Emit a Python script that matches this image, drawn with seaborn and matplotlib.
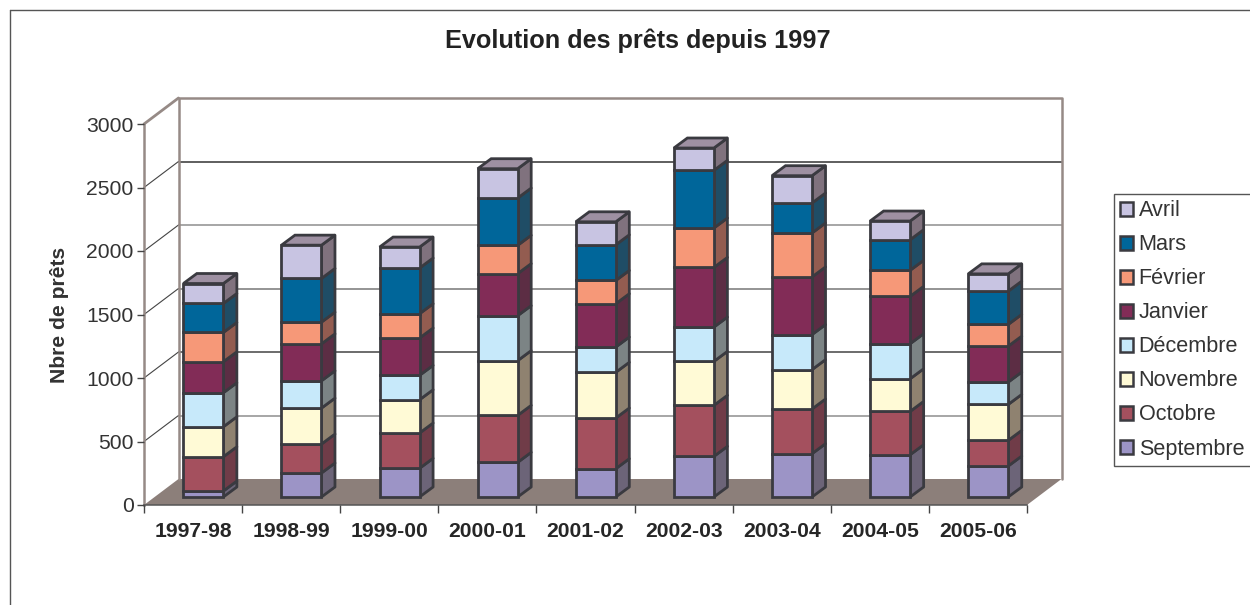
import matplotlib
matplotlib.use("Agg")
import numpy as np
import matplotlib.pyplot as plt
import seaborn as sns
from matplotlib.lines import Line2D
from matplotlib.patches import Patch

annees = ["1997-98", "1998-99", "1999-00", "2000-01", "2001-02",
          "2002-03", "2003-04", "2004-05", "2005-06"]
mois = ["Septembre", "Octobre", "Novembre", "Décembre",
        "Janvier", "Février", "Mars", "Avril"]

septembre = [47, 189, 226, 273, 223, 320, 341, 333, 244]
octobre = [270, 228, 278, 370, 399, 402, 352, 341, 202]
novembre = [236, 283, 262, 431, 360, 346, 310, 257, 283]
decembre = [268, 215, 192, 354, 199, 270, 276, 276, 176]
janvier = [244, 291, 294, 331, 341, 470, 454, 373, 283]
fevrier = [231, 171, 191, 223, 183, 310, 346, 205, 171]
mars = [228, 344, 360, 372, 281, 454, 236, 241, 262]
avril = [157, 262, 165, 231, 181, 176, 215, 147, 136]
series = [septembre, octobre, novembre, decembre, janvier, fevrier, mars, avril]

couleurs = ["#9C94C6", "#A4505E", "#FFFAD6", "#C7E9FA",
            "#822C57", "#F69878", "#00669A", "#C8C4E2"]
cotes = ["#6C6478", "#703C48", "#8F8270", "#7C8485",
         "#5C2D44", "#935C50", "#1F4D66", "#80727E"]
dessus = "#9E90A2"
bord = "#3A3A40"
brun = "#968A86"

graduations = [0, 500, 1000, 1500, 2000, 2500, 3000]
couleurs_grille = ["#8E8E8E", "#444444", "#777777", "#8E8E8E", "#333333"]

# profondeur du faux 3D, en unites des axes
px_x = 98.1
px_y = 381 / 3000
prof_x, prof_y = 34.5 / px_x, 26 / px_y
barre_dx, barre_dy = 13.5 / px_x, 10 / px_y
decal_x, decal_y = 10.3 / px_x, 8 / px_y
largeur = 40 / px_x

sns.set_theme(style="white")
plt.rcParams["font.family"] = ["Liberation Sans", "DejaVu Sans"]
plt.rcParams["text.color"] = "#222222"

fig = plt.figure(figsize=(12.5, 6.05), dpi=100)
ax = fig.add_axes([144 / 1250, 100 / 605, 883 / 1250, 381 / 605])
ax.patch.set_alpha(0)

n = len(annees)
gauche, droite = -0.5, n - 0.5

# sol et parois
ax.fill([gauche, droite, droite + prof_x, gauche + prof_x], [0, 0, prof_y, prof_y],
        color="#8C7F7A", lw=0, clip_on=False, zorder=1)
for g, c in zip(graduations[1:-1], couleurs_grille):
    ax.plot([gauche, gauche + prof_x], [g, g + prof_y], color="#444444", lw=0.8, clip_on=False, zorder=1)
    ax.plot([gauche + prof_x, droite + prof_x], [g + prof_y, g + prof_y], color=c, lw=1.1,
            clip_on=False, zorder=1)
haut = graduations[-1]
ax.plot([gauche, gauche + prof_x], [haut, haut + prof_y], color=brun, lw=2, clip_on=False, zorder=2)
ax.plot([gauche + prof_x, gauche + prof_x, droite + prof_x, droite + prof_x],
        [prof_y, haut + prof_y, haut + prof_y, prof_y], color=brun, lw=1.8, clip_on=False, zorder=2)

# barres empilees
bas = np.zeros(n)
for valeurs, couleur in zip(series, couleurs):
    sns.barplot(x=annees, y=valeurs, bottom=bas + decal_y, color=couleur, saturation=1,
                width=largeur, errorbar=None, edgecolor=bord, linewidth=2, ax=ax, zorder=4)
    bas = bas + np.array(valeurs)

for barre in ax.patches:
    if isinstance(barre, plt.Rectangle):
        barre.set_x(barre.get_x() + decal_x)

# faces laterales et dessus
for i in range(n):
    x1 = i - largeur / 2 + decal_x + largeur
    x0 = x1 - largeur
    y = decal_y
    for valeurs, cote in zip(series, cotes):
        ax.fill([x1, x1 + barre_dx, x1 + barre_dx, x1],
                [y, y + barre_dy, y + valeurs[i] + barre_dy, y + valeurs[i]],
                facecolor=cote, edgecolor=bord, lw=2, zorder=3, joinstyle="round")
        y += valeurs[i]
    ax.fill([x0, x1, x1 + barre_dx, x0 + barre_dx], [y, y, y + barre_dy, y + barre_dy],
            facecolor=dessus, edgecolor=bord, lw=2, zorder=3)

# axes
ax.set_xlim(gauche, droite)
ax.set_ylim(0, haut)
ax.set_yticks(graduations)
ax.set_xticks(np.arange(n))
ax.set_xticks(np.arange(n + 1) - 0.5, minor=True)
ax.set_xticklabels(annees, fontweight="bold", fontsize=15.2)
ax.tick_params(axis="x", which="major", length=0, pad=12)
ax.tick_params(axis="x", which="minor", length=6, width=1, color="#444444", bottom=True)
ax.tick_params(axis="y", length=5, width=1, color="#444444", left=True, pad=2.5, labelsize=15.2,
               labelcolor="#333333")
ax.set_xlabel("")
ax.set_ylabel("Nbre de prêts", fontweight="bold", fontsize=15.2, labelpad=12.5, color="#333333")
for nom in ["top", "right"]:
    ax.spines[nom].set_visible(False)
ax.spines["left"].set_color(brun)
ax.spines["left"].set_linewidth(1.8)
ax.spines["bottom"].set_color("#555555")
ax.spines["bottom"].set_linewidth(1.1)
ax.set_axisbelow(False)

fig.text(638 / 1250, 1 - 41 / 605, "Evolution des prêts depuis 1997", fontweight="bold",
         fontsize=18.2, ha="center", va="center")

# legende (Avril en haut)
poignees = [Patch(facecolor=c, edgecolor=bord, lw=1.8, label=m)
            for c, m in zip(couleurs[::-1], mois[::-1])]
fig.legend(handles=poignees, loc="upper left", bbox_to_anchor=(1113.5 / 1250, 1 - 194 / 605),
           borderaxespad=0, fancybox=False, framealpha=1, edgecolor="#555555",
           fontsize=15.6, labelspacing=0.6, handlelength=0.62, handleheight=0.62,
           handletextpad=0.24, borderpad=0.3, labelcolor="#333333")

# cadre du graphique, coupe a droite et en bas
fig.add_artist(Line2D([10 / 1250, 1], [1 - 10 / 605, 1 - 10 / 605], color="#555555", lw=1))
fig.add_artist(Line2D([10 / 1250, 10 / 1250], [0, 1 - 10 / 605], color="#555555", lw=1))

fig.savefig("out.png", dpi=100)
